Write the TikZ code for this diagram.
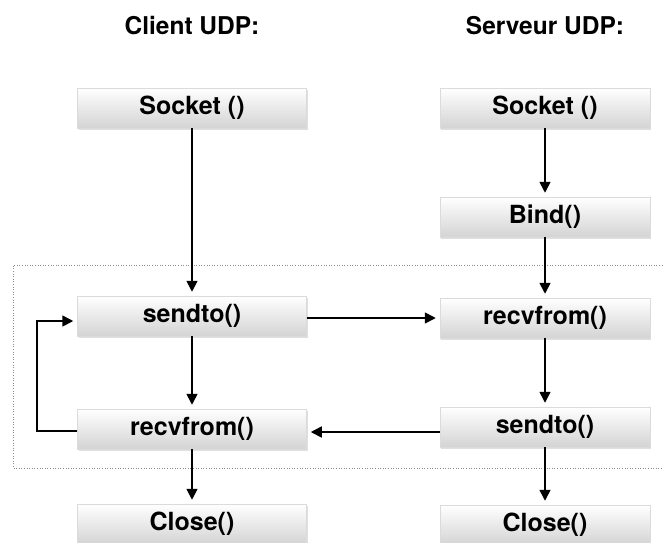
\documentclass[tikz,border=0pt]{standalone}
\usepackage{fontspec}
\setmainfont{TeX Gyre Heros}
\usetikzlibrary{arrows.meta,shadows}
\begin{document}
\begin{tikzpicture}[x=1pt,y=-1pt,
  fnbox/.style={rectangle, minimum height=40pt, inner sep=0pt,
    top color=white, bottom color=black!17, draw=black!14, line width=0.5pt,
    font=\fontsize{25}{28}\selectfont\bfseries, text=black,
    drop shadow={opacity=0.25, shadow xshift=1pt, shadow yshift=-2pt}},
  cbox/.style={fnbox, minimum width=229pt},
  sbox/.style={fnbox, minimum width=210pt},
  title/.style={font=\fontsize{24.5}{27}\selectfont\bfseries, text=black},
  flow/.style={line width=1.6pt, -{Triangle[length=11pt,width=11pt]}, shorten >=4pt}]
\useasboundingbox (0,0) rectangle (664,542);
\fill[white] (0,0) rectangle (664,542);
% dotted frame
\draw[dotted, black!45, line width=0.6pt] (670,265) -- (13,265) -- (13,468) -- (670,468);
% titles
\node[title] (tc) at (192,26) {Client UDP:};
\node[title] (ts) at (545,26) {Serveur UDP:};
% client
\node[cbox] (cSocket) at (192,108) {Socket ()};
\node[cbox] (cSend) at (192,316) {sendto()};
\node[cbox] (cRecv) at (192,429) {recvfrom()};
\node[cbox] (cClose) at (192,524) {Close()};
% server
\node[sbox] (sSocket) at (545,108) {Socket ()};
\node[sbox] (sBind) at (545,217) {Bind()};
\node[sbox] (sRecv) at (545,318) {recvfrom()};
\node[sbox] (sSend) at (545,427) {sendto()};
\node[sbox] (sClose) at (545,525) {Close()};
% connectors
\coordinate (lb) at (37,431);
\coordinate (lt) at (37,321);
\draw[flow] (cSocket) -- (cSend);
\draw[flow] (cSend) -- (cRecv);
\draw[flow] (cRecv) -- (cClose);
\draw[flow] (cRecv.west |- lb) -- (lb) -- (lt) -- (cSend.west |- lt);
\draw[flow] (cSend.east |- 0,318) -- (sRecv.west |- 0,318);
\draw[flow] (sSend.west |- 0,432) -- (cRecv.east |- 0,432);
\draw[flow] (sSocket) -- (sBind);
\draw[flow] (sBind) -- (sRecv);
\draw[flow] (sRecv) -- (sSend);
\draw[flow] (sSend) -- (sClose);
\end{tikzpicture}
\end{document}
